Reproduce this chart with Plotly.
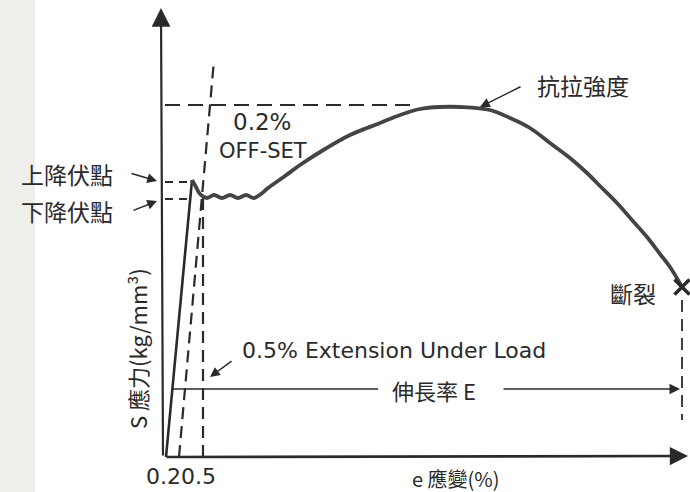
import plotly.graph_objects as go

# ---- data (schematic strain / stress units, origin at the axes corner) ----
elastic_strain = [1, 27]
elastic_stress = [0, 277]

plastic_strain = [27, 31, 35, 42, 49, 57, 65, 73, 81, 89, 96, 103, 120, 135, 160, 185,
                  215, 235, 255, 275, 295, 325, 345, 365, 385, 405, 422, 435, 452, 467,
                  482, 495, 505, 517]
plastic_stress = [277, 270, 263, 259, 262, 259, 262, 259, 262, 259, 263, 269, 281, 292,
                  308, 322, 334, 342, 348, 350, 350, 347, 339, 329, 314, 299, 284, 271, 254,
                  237, 220, 203, 190, 170]

fracture_strain = [517]
fracture_stress = [170]

offset_line_strain = [14, 49]        # 0.2 % offset line
offset_line_stress = [0, 397]
eul_strain = [38, 38]                # 0.5 % extension under load
eul_stress = [0, 265]
tensile_strain = [0, 252]            # tensile strength level
tensile_stress = [352, 352]
upper_yield_strain = [0, 22]
upper_yield_stress = [275, 275]
lower_yield_strain = [0, 22]
lower_yield_stress = [258, 258]
fracture_drop_strain = [517, 517]
fracture_drop_stress = [157, 37]

tick_text = "0.20.5"
x_title = "e 應變(%)"
y_title = "S 應力(kg/mm³)"

INK = "#2a2a2a"
CJK = "Noto Sans CJK TC, Noto Sans CJK SC, sans-serif"
LAT = "DejaVu Sans, Liberation Sans, sans-serif"

fig = go.Figure()

def dashed(xs, ys, w=2.2, dash="12px,7px"):
    fig.add_trace(go.Scatter(x=xs, y=ys, mode="lines",
                             line=dict(color=INK, width=w, dash=dash),
                             hoverinfo="skip", showlegend=False, cliponaxis=False))

dashed(tensile_strain, tensile_stress, dash="15px,8px")
dashed(upper_yield_strain, upper_yield_stress, dash="8px,6px")
dashed(lower_yield_strain, lower_yield_stress, dash="8px,6px")
dashed(offset_line_strain, offset_line_stress, w=2.2, dash="12px,7px")
dashed(eul_strain, eul_stress, w=2.2, dash="12px,7px")
dashed(fracture_drop_strain, fracture_drop_stress, w=1.8, dash="12px,7px")

fig.add_trace(go.Scatter(x=elastic_strain, y=elastic_stress, mode="lines",
                         line=dict(color=INK, width=2.6), hoverinfo="skip", showlegend=False))
fig.add_trace(go.Scatter(x=plastic_strain, y=plastic_stress, mode="lines",
                         line=dict(color="#444444", width=3.8, shape="spline", smoothing=1.0),
                         hoverinfo="skip", showlegend=False, cliponaxis=False))
fig.add_trace(go.Scatter(x=fracture_strain, y=fracture_stress, mode="markers",
                         marker=dict(symbol="x-thin", size=15, line=dict(color=INK, width=3.5)),
                         hoverinfo="skip", showlegend=False, cliponaxis=False))

def arrow(x, y, ax, ay, w=1.6, head=2, size=1.2):
    fig.add_annotation(x=x, y=y, ax=ax, ay=ay, xref="x", yref="y", axref="x", ayref="y",
                       text="", showarrow=True, arrowhead=head, arrowsize=size,
                       arrowwidth=w, arrowcolor=INK)

# axes with arrows
arrow(-4, 449, -2, 0, w=2.2, head=2, size=1.7)
arrow(523, 1, 0, 0, w=2.6, head=2, size=1.4)
# elongation arrows
fig.add_trace(go.Scatter(x=[8, 213], y=[68, 68], mode="lines",
                         line=dict(color=INK, width=1.4), hoverinfo="skip", showlegend=False))
arrow(515, 68, 337, 68, w=1.4, head=2, size=1.5)
# label arrows
arrow(-8, 276, -35, 284, w=1.5, head=2, size=1.3)
arrow(-8, 256, -33, 246, w=1.5, head=2, size=1.3)
arrow(315, 350, 357, 371, w=1.5, head=2, size=1.3)
arrow(45, 80, 68, 97, w=1.5, head=2, size=1.3)

def label(x, y, s, size=20, font=CJK, angle=0):
    fig.add_annotation(x=x, y=y, xref="x", yref="y", text=s, showarrow=False,
                       textangle=angle, font=dict(family=font, size=size, color=INK))

label(-98, 283, "上降伏點", 23)
label(-98, 246, "下降伏點", 23)
label(97, 335, "0.2%", 23, LAT)
label(98, 306, "OFF-SET", 21, LAT)
label(418, 372, "抗拉強度", 23)
label(468, 164, "斷裂", 23)
label(229, 107, "0.5% Extension Under Load", 22, LAT)
label(269, 67, "伸長率 E", 22)
label(-28, 108, y_title, 22, CJK, angle=-90)
label(291, -21, x_title, 20)
label(16, -19, tick_text, 22, LAT)

fig.update_layout(
    width=690, height=492,
    margin=dict(l=0, r=0, t=0, b=0),
    paper_bgcolor="white", plot_bgcolor="white",
    xaxis=dict(range=[-165, 525], visible=False, fixedrange=True),
    yaxis=dict(range=[-35, 457], visible=False, fixedrange=True),
    shapes=[dict(type="rect", xref="paper", yref="paper", x0=0, x1=35 / 690, y0=0, y1=1,
                 fillcolor="#eeeeea", line=dict(width=0), layer="below")],
)

fig.write_html("out.html", config={"displayModeBar": False})

# remove the default page margin so the 690x492 figure fills the window exactly
with open("out.html", encoding="utf-8") as f:
    html = f.read()
html = html.replace("<head>", "<head><style>html,body{margin:0;padding:0;overflow:hidden;}</style>", 1)
with open("out.html", "w", encoding="utf-8") as f:
    f.write(html)
